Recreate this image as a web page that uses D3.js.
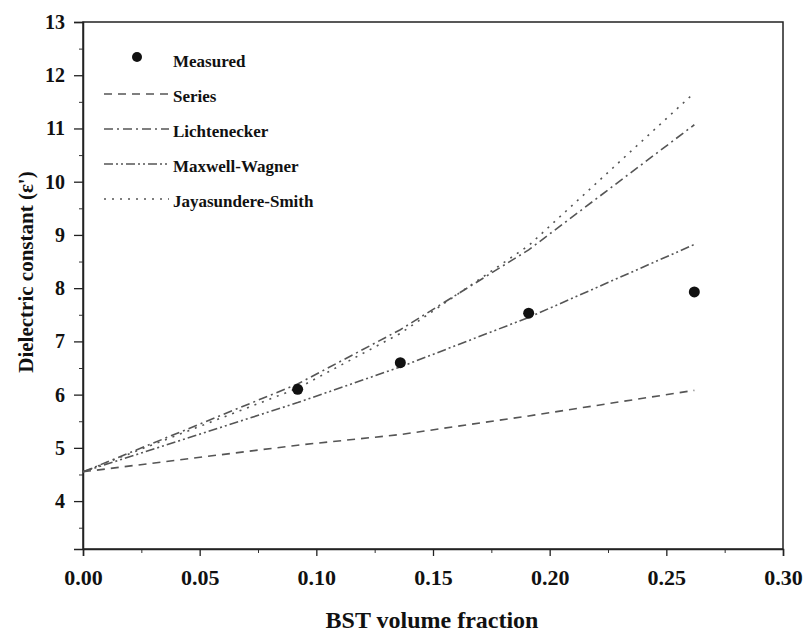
<!DOCTYPE html>
<html>
<head>
<meta charset="utf-8">
<script src="https://cdn.jsdelivr.net/npm/d3@7"></script>
<style>
  body { margin: 0; background: #fff; }
  text { font-family: "Liberation Serif", "Times New Roman", serif; font-weight: bold; fill: #111; }
</style>
</head>
<body>
<div id="chart-area"></div>
<script>
// volume fractions where the models were evaluated
const modelX = [0, 0.092, 0.136, 0.191, 0.262];
const seriesVals = [4.55, 5.05, 5.25, 5.6, 6.08];
const lichteneckerVals = [4.55, 6.2, 7.22, 8.72, 11.07];
const maxwellVals = [4.55, 5.85, 6.52, 7.45, 8.82];
const jayaVals = [4.55, 6.12, 7.15, 8.8, 11.67];

// measured points
const measuredX = [0.092, 0.136, 0.191, 0.262];
const measuredY = [6.1, 6.6, 7.53, 7.93];

const xTicks = [0, 0.05, 0.1, 0.15, 0.2, 0.25, 0.3];
const yTicks = [4, 5, 6, 7, 8, 9, 10, 11, 12, 13];

const width = 805, height = 633;
const margin = { top: 22, right: 22, bottom: 84, left: 83 };

const svg = d3
  .select("#chart-area")
  .append("svg")
  .attr("width", width)
  .attr("height", height);

const x = d3.scaleLinear().domain([0, 0.3]).range([margin.left, width - margin.right]);
const y = d3.scaleLinear().domain([3.1, 13]).range([height - margin.bottom, margin.top]);

// frame
svg.append("rect")
  .attr("x", margin.left)
  .attr("y", margin.top)
  .attr("width", x(0.3) - x(0))
  .attr("height", y(3.1) - y(13))
  .attr("fill", "none")
  .attr("stroke", "#222")
  .attr("stroke-width", 1.5);

// minor ticks
svg.append("g")
  .attr("transform", `translate(0,${y(3.1)})`)
  .call(d3.axisBottom(x).tickValues(d3.range(0.025, 0.3, 0.05)).tickSize(4).tickFormat(""))
  .call(g => g.select(".domain").remove())
  .selectAll("line").attr("stroke", "#333");

svg.append("g")
  .attr("transform", `translate(${x(0)},0)`)
  .call(d3.axisLeft(y).tickValues(d3.range(3.5, 13, 1)).tickSize(4).tickFormat(""))
  .call(g => g.select(".domain").remove())
  .selectAll("line").attr("stroke", "#333");

// major ticks
const xAxis = svg.append("g")
  .attr("transform", `translate(0,${y(3.1)})`)
  .call(d3.axisBottom(x).tickValues(xTicks).tickSize(7).tickPadding(13).tickFormat(d3.format(".2f")));
xAxis.select(".domain").attr("stroke", "#222").attr("stroke-width", 1.5);
xAxis.selectAll("line").attr("stroke", "#222").attr("stroke-width", 1.3);
xAxis.selectAll("text").style("font-size", "22px");

const yAxis = svg.append("g")
  .attr("transform", `translate(${x(0)},0)`)
  .call(d3.axisLeft(y).tickValues(yTicks).tickSize(9).tickPadding(9));
yAxis.select(".domain").attr("stroke", "#222").attr("stroke-width", 1.5);
yAxis.selectAll("line").attr("stroke", "#222").attr("stroke-width", 1.3);
yAxis.selectAll("text").style("font-size", "20px");

// axis titles
svg.append("text")
  .attr("x", 432)
  .attr("y", 628)
  .attr("text-anchor", "middle")
  .style("font-size", "24px")
  .text("BST volume fraction");

svg.append("text")
  .attr("transform", "translate(33,272) rotate(-90)")
  .attr("text-anchor", "middle")
  .style("font-size", "21px")
  .text("Dielectric constant (ε')");

// model curves
const models = [
  { name: "Series", vals: seriesVals, dash: "8,6" },
  { name: "Lichtenecker", vals: lichteneckerVals, dash: "9,4,2,4" },
  { name: "Maxwell-Wagner", vals: maxwellVals, dash: "9,3,2,3,2,3" },
  { name: "Jayasundere-Smith", vals: jayaVals, dash: "2,6" }
];

const line = d3.line()
  .x((d, i) => x(modelX[i]))
  .y(d => y(d));

svg.selectAll(".model")
  .data(models)
  .enter()
  .append("path")
  .attr("class", "model")
  .attr("d", d => line(d.vals))
  .attr("fill", "none")
  .attr("stroke", "#555")
  .attr("stroke-width", 1.6)
  .attr("stroke-dasharray", d => d.dash);

// measured points
svg.selectAll(".pt")
  .data(measuredY)
  .enter()
  .append("circle")
  .attr("class", "pt")
  .attr("cx", (d, i) => x(measuredX[i]))
  .attr("cy", d => y(d))
  .attr("r", 5.5)
  .attr("fill", "#111");

// legend
const legend = svg.append("g");
legend.append("circle").attr("cx", 137).attr("cy", 57).attr("r", 5).attr("fill", "#111");
legend.append("text").attr("x", 173).attr("y", 67).style("font-size", "17px").text("Measured");

models.forEach((m, i) => {
  const ly = 96 + i * 35;
  legend.append("line")
    .attr("x1", 104).attr("x2", 169)
    .attr("y1", ly - 2).attr("y2", ly - 2)
    .attr("stroke", "#555")
    .attr("stroke-width", 1.6)
    .attr("stroke-dasharray", m.dash);
  legend.append("text")
    .attr("x", 173).attr("y", ly + 6)
    .style("font-size", "17px")
    .text(m.name);
});
</script>
</body>
</html>
